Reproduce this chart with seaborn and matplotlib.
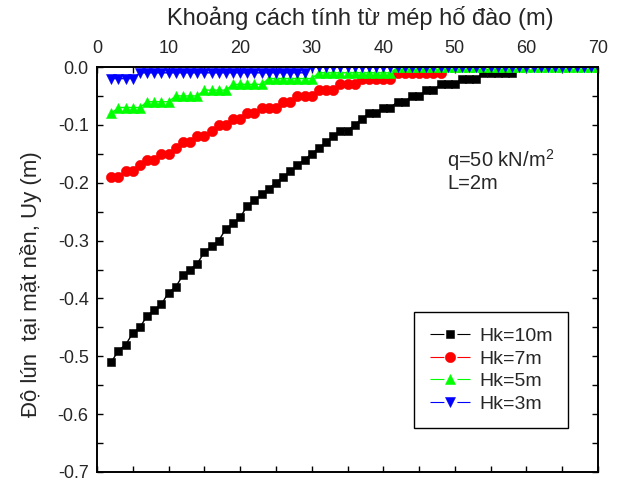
import matplotlib
matplotlib.use("Agg")
import matplotlib.pyplot as plt
import seaborn as sns
from matplotlib.lines import Line2D
from matplotlib.legend_handler import HandlerTuple
from matplotlib.ticker import MultipleLocator, FuncFormatter

# ---- data ----
x_hk10 = list(range(2, 59))
y_hk10 = [-0.51, -0.49, -0.48, -0.46, -0.45, -0.43, -0.42, -0.41, -0.39, -0.38,
          -0.36, -0.35, -0.34, -0.32, -0.31, -0.30, -0.28, -0.27, -0.26, -0.24,
          -0.23, -0.22, -0.21, -0.20, -0.19, -0.18, -0.17, -0.16, -0.15, -0.14,
          -0.13, -0.12, -0.11, -0.11, -0.10, -0.09, -0.08, -0.08, -0.07, -0.07,
          -0.06, -0.06, -0.05, -0.05, -0.04, -0.04, -0.03, -0.03, -0.03, -0.02,
          -0.02, -0.02, -0.01, -0.01, -0.01, -0.01, -0.01]

x_hk7 = list(range(2, 49))
y_hk7 = [-0.19, -0.19, -0.18, -0.18, -0.17, -0.16, -0.16, -0.15, -0.15, -0.14,
         -0.13, -0.13, -0.12, -0.12, -0.11, -0.10, -0.10, -0.09, -0.09, -0.08,
         -0.08, -0.07, -0.07, -0.07, -0.06, -0.06, -0.05, -0.05, -0.05, -0.04,
         -0.04, -0.04, -0.03, -0.03, -0.03, -0.02, -0.02, -0.02, -0.02, -0.02,
         -0.01, -0.01, -0.01, -0.01, -0.01, -0.01, -0.01]

x_hk5 = list(range(2, 71))
y_hk5 = [-0.08, -0.07, -0.07, -0.07, -0.07, -0.06, -0.06, -0.06, -0.06, -0.05,
         -0.05, -0.05, -0.05, -0.04, -0.04, -0.04, -0.04, -0.03, -0.03, -0.03,
         -0.03, -0.03, -0.02, -0.02, -0.02, -0.02, -0.02, -0.02, -0.02, -0.01,
         -0.01, -0.01, -0.01, -0.01, -0.01, -0.01, -0.01, -0.01, -0.01, -0.01,
         0.00, 0.00, 0.00, 0.00, 0.00, 0.00, 0.00, 0.00, 0.00, 0.00,
         0.00, 0.00, 0.00, 0.00, 0.00, 0.00, 0.00, 0.00, 0.00, 0.00,
         0.00, 0.00, 0.00, 0.00, 0.00, 0.00, 0.00, 0.00, 0.00]

x_hk3 = list(range(2, 71))
y_hk3 = [-0.02, -0.02, -0.02, -0.02, -0.01, -0.01, -0.01, -0.01, -0.01, -0.01,
         -0.01, -0.01, -0.01, -0.01, -0.01, -0.01, -0.01, -0.01, -0.01, -0.01,
         -0.01, -0.01, -0.01, -0.01, -0.01, -0.01, -0.01, -0.01, 0.00, 0.00,
         0.00, 0.00, 0.00, 0.00, 0.00, 0.00, 0.00, 0.00, 0.00, 0.00,
         0.00, 0.00, 0.00, 0.00, 0.00, 0.00, 0.00, 0.00, 0.00, 0.00,
         0.00, 0.00, 0.00, 0.00, 0.00, 0.00, 0.00, 0.00, 0.00, 0.00,
         0.00, 0.00, 0.00, 0.00, 0.00, 0.00, 0.00, 0.00, 0.00]

labels = ["Hk=10m", "Hk=7m", "Hk=5m", "Hk=3m"]
x_ticks = [0, 10, 20, 30, 40, 50, 60, 70]
y_ticks = [0.0, -0.1, -0.2, -0.3, -0.4, -0.5, -0.6, -0.7]

# ---- style ----
sns.set_style("ticks")
plt.rcParams["font.family"] = ["Liberation Sans", "DejaVu Sans"]
plt.rcParams["axes.unicode_minus"] = False
plt.rcParams["lines.scale_dashes"] = False
plt.rcParams["mathtext.fontset"] = "custom"
plt.rcParams["mathtext.rm"] = "Liberation Sans"

fig = plt.figure(figsize=(6.24, 4.83), dpi=100)
ax = fig.add_axes([97 / 624, 11 / 483, 501 / 624, 405 / 483])

styles = [
    (x_hk10, y_hk10, "black", "s", 6.0),
    (x_hk7, y_hk7, "#ff0000", "o", 7.4),
    (x_hk5, y_hk5, "#00ff00", "^", 7.2),
    (x_hk3, y_hk3, "#0000ff", "v", 7.2),
]
for xs, ys, c, m, ms in styles:
    sns.lineplot(x=xs, y=ys, ax=ax, color=c, marker=m, markersize=ms,
                 mec=c, mew=0.4, linewidth=1.0, legend=False)

ax.set_xlim(0, 70)
ax.set_ylim(-0.7, 0.0)
ax.set_xticks(x_ticks)
ax.set_yticks(y_ticks)
ax.xaxis.set_minor_locator(MultipleLocator(5))
ax.yaxis.set_minor_locator(MultipleLocator(0.05))
ax.yaxis.set_major_formatter(FuncFormatter(lambda v, p: "%.1f" % (0.0 if abs(v) < 1e-9 else v)))

ax.xaxis.tick_top()
ax.tick_params(which="both", direction="in", top=True, bottom=True, left=True, right=True,
               labeltop=True, labelbottom=False, length=4.5, width=1.0, color="black")
ax.tick_params(axis="x", labelsize=13, pad=7)
ax.tick_params(axis="y", labelsize=13, pad=6)
for sp in ax.spines.values():
    sp.set_visible(True)
    sp.set_linewidth(1.4)
    sp.set_color("black")

ax.set_xlabel("Khoảng cách tính từ mép hố đào (m)", fontsize=17)
ax.xaxis.set_label_position("top")
ax.xaxis.set_label_coords((360 - 97) / 501, (472 - 18) / 405)
ax.xaxis.label.set_va("center")

ax.set_ylabel("Độ lún  tại mặt nền, Uy (m)", fontsize=16)
ax.yaxis.set_label_coords((31 - 97) / 501, (472 - 284) / 405)
ax.yaxis.label.set_va("center")

ax.text(48.9, -0.161, r"q=50 kN/m$^\mathregular{2}$", fontsize=14.5, va="center", ha="left")
ax.text(48.9, -0.202, "L=2m", fontsize=14.5, va="center", ha="left")

handles = []
for xs, ys, c, m, ms in styles:
    ln = Line2D([], [], color=c, lw=0.8, linestyle=(0, (10.0, 9.4, 10.0, 100)))
    mk = Line2D([], [], color=c, marker=m, ls="none", markersize=ms, mec=c, mew=0.4)
    handles.append((ln, mk))
leg = ax.legend(handles, labels, handler_map={tuple: HandlerTuple(ndivide=1)},
                loc="upper left", bbox_to_anchor=((414 - 97) / 501, (472 - 312) / 405),
                fontsize=14, handlelength=2.1, handletextpad=0.45, labelspacing=0.25,
                borderpad=0.8, borderaxespad=0, frameon=True, fancybox=False,
                framealpha=1, edgecolor="black")
leg.get_frame().set_linewidth(1.0)

fig.savefig("out.png", dpi=100)
